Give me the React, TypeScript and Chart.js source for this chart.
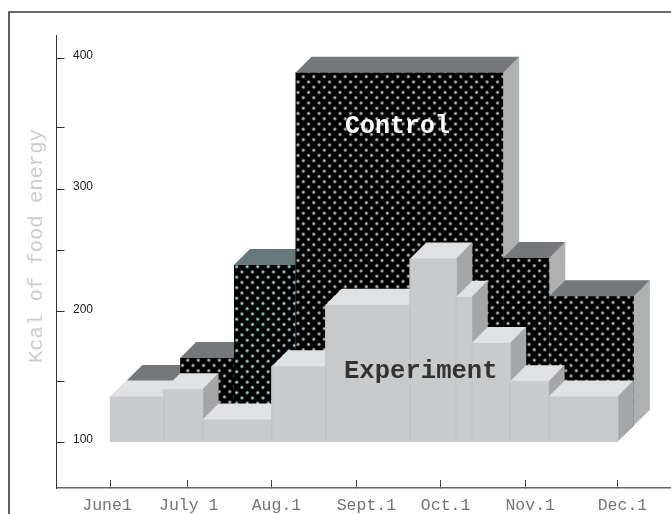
import React, { useEffect, useRef } from "react";
import { Chart, BarController, registerables } from "chart.js";

Chart.register(...registerables);

// Bar boundaries and values
const experimentEdges = [0, 7, 12, 21, 28, 39, 45, 47, 52, 57, 66];
const experimentValues = [135.9, 141.6, 117.9, 159.6, 207.7, 243.7, 213.8, 177.8, 147.9, 135.9];
const controlEdges = [0, 7, 14, 22, 49, 55, 66];
const controlValues = [135.6, 153.6, 226.2, 376.3, 231.7, 201.7];
const xTickValues = [0, 10, 21, 32, 43, 54, 66];
const xLabelCenters = [-0.43, 10.2, 21.6, 33.3, 43.6, 54.6, 66.6];
const xTickLabels = ["June1", "July 1", "Aug.1", "Sept.1", "Oct.1", "Nov.1", "Dec.1"];
const yTickValues = [100, 147.9, 202, 250.2, 297.9, 346.3, 400];
const yTickLabels = ["100", "", "200", "", "300", "", "400"];
const tealControlIndex = 2;

const DEPTH = 16;

class VarBarController extends BarController {
  _calculateBarIndexPixels(index: number) {
    const scale = this._cachedMeta.iScale;
    const edges = (this.getDataset() as any).edges;
    const l = scale.getPixelForValue(edges[index]);
    const r = scale.getPixelForValue(edges[index + 1]);
    return { base: l, head: r, center: (l + r) / 2, size: r - l, ratio: 1 };
  }
}
(VarBarController as any).id = "varbar";
(VarBarController as any).defaults = BarController.defaults;
(VarBarController as any).overrides = BarController.overrides;
Chart.register(VarBarController as any);

function dotPattern(ctx: CanvasRenderingContext2D, ax: number, ay: number, core: string, halo: string) {
  const T = 21;
  const c = document.createElement("canvas");
  c.width = T;
  c.height = T;
  const g = c.getContext("2d")!;
  g.fillStyle = "#000";
  g.fillRect(0, 0, T, T);
  const P = 10.5;
  for (let i = -1; i < 3; i++) {
    for (let j = -1; j < 3; j++) {
      for (const [ox, oy] of [[0, 0], [P / 2, P / 2]]) {
        const x = ax + i * P + ox;
        const y = ay + j * P + oy;
        const rg = g.createRadialGradient(x, y, 0, x, y, 2.8);
        rg.addColorStop(0, core);
        rg.addColorStop(0.45, halo);
        rg.addColorStop(1, "rgba(0,0,0,0)");
        g.fillStyle = rg;
        g.fillRect(x - 3, y - 3, 6, 6);
      }
    }
  }
  return ctx.createPattern(c, "repeat")!;
}

function poly(ctx: CanvasRenderingContext2D, pts: number[][], fill: string) {
  ctx.beginPath();
  pts.forEach(([x, y], i) => (i ? ctx.lineTo(x, y) : ctx.moveTo(x, y)));
  ctx.closePath();
  ctx.fillStyle = fill;
  ctx.fill();
}

const box3d = {
  id: "box3d",
  beforeDraw(chart: any) {
    const { ctx } = chart;
    ctx.save();
    ctx.strokeStyle = "#3c3c3c";
    ctx.lineWidth = 1.6;
    ctx.beginPath();
    ctx.moveTo(9, 514);
    ctx.lineTo(9, 12);
    ctx.lineTo(671, 12);
    ctx.stroke();
    ctx.restore();
  },
  beforeDatasetDraw(chart: any, args: any) {
    const { ctx } = chart;
    const ds = chart.data.datasets[args.index];
    ctx.save();
    ctx.translate(ds.shiftPx, -ds.shiftPx);
    args.meta.data.forEach((el: any, i: number) => {
      const l = el.x - el.width / 2;
      const r = el.x + el.width / 2;
      const t = el.y;
      const b = el.base;
      poly(ctx, [[r - 0.7, t], [r + DEPTH, t - DEPTH], [r + DEPTH, b - DEPTH], [r - 0.7, b]], ds.sideColor);
      const top = Array.isArray(ds.topColor) ? ds.topColor[i] : ds.topColor;
      poly(ctx, [[l, t + 0.7], [l, t], [l + DEPTH, t - DEPTH], [r + DEPTH, t - DEPTH], [r, t], [r, t + 0.7]], top);
    });
    if (ds.frontUnderlay) {
      // keeps the darker bar behind from showing through the anti-aliased edges
      ctx.fillStyle = ds.frontUnderlay;
      args.meta.data.forEach((el: any) => {
        ctx.fillRect(el.x - el.width / 2 - 0.5, el.y + 0.5, el.width + 1, el.base - el.y - 0.5);
      });
    }
  },
  afterDatasetDraw(chart: any, args: any) {
    const { ctx } = chart;
    const ds = chart.data.datasets[args.index];
    if (ds.seamColor) {
      ctx.fillStyle = ds.seamColor;
      args.meta.data.forEach((el: any, i: number) => {
        if (i) ctx.fillRect(Math.round(el.x - el.width / 2) - 0.5, el.y, 1, el.base - el.y);
      });
    }
    ctx.restore();
  },
  afterDatasetsDraw(chart: any) {
    const { ctx } = chart;
    ctx.save();
    ctx.textAlign = "left";
    ctx.textBaseline = "alphabetic";
    ctx.font = "bold 25px 'Liberation Mono'";
    ctx.fillStyle = "#ffffff";
    ctx.fillText("Control", 345, 132.5);
    ctx.font = "bold 25.6px 'Liberation Mono'";
    ctx.fillStyle = "#333333";
    ctx.fillText("Experiment", 344, 378);
    ctx.translate(41.5, 363);
    ctx.rotate(-Math.PI / 2);
    ctx.font = "20.5px 'Liberation Mono'";
    ctx.fillStyle = "#cbcdcd";
    ctx.fillText("Kcal of food energy", 0, 0);
    ctx.restore();
  },
};

export default function App() {
  const ref = useRef<HTMLCanvasElement>(null);
  useEffect(() => {
    const canvas = ref.current!;
    const ctx = canvas.getContext("2d")!;
    const gray = dotPattern(ctx, 3.8, 8.7, "#dcdcdc", "#727272");
    const teal = dotPattern(ctx, 0.2, 9.7, "#e0e8e8", "#55898e");
    const center = (edges: number[], i: number) => (edges[i] + edges[i + 1]) / 2;
    const chart = new Chart(canvas, {
      type: "varbar" as any,
      data: {
        datasets: [
          {
            label: "Experiment",
            order: 1,
            edges: experimentEdges,
            shiftPx: 0,
            data: experimentValues.map((y, i) => ({ x: center(experimentEdges, i), y })),
            backgroundColor: "#c9cacc",
            borderWidth: 0,
            frontUnderlay: "#c9cacc",
            seamColor: "#bfc0c2",
            topColor: "#e0e1e3",
            sideColor: "#a4a6a8",
            base: 100,
            clip: false,
          },
          {
            label: "Control",
            order: 2,
            edges: controlEdges,
            shiftPx: DEPTH,
            data: controlValues.map((y, i) => ({ x: center(controlEdges, i), y })),
            backgroundColor: controlValues.map((_, i) => (i === tealControlIndex ? teal : gray)),
            borderWidth: 0,
            topColor: controlValues.map((_, i) => (i === tealControlIndex ? "#65797c" : "#74787a")),
            sideColor: "#adb1b2",
            base: 100,
            clip: false,
          },
        ] as any,
      },
      options: {
        animation: false,
        responsive: false,
        events: [],
        layout: { autoPadding: false, padding: { top: 35, left: 0, right: 0, bottom: 0 } },
        plugins: { legend: { display: false }, tooltip: { enabled: false } },
        scales: {
          x: {
            type: "linear",
            offset: false,
            weight: 0,
            min: -7,
            max: 72.91,
            afterBuildTicks(s: any) {
              s.ticks = xTickValues.map((value) => ({ value }));
            },
            afterFit(s: any) {
              s.height = 0;
            },
            border: { color: "#666666", width: 1.5 },
            grid: { offset: false, drawOnChartArea: false, tickLength: -8, color: "#444444", tickWidth: 1 },
            ticks: { display: false, autoSkip: false, maxRotation: 0, minRotation: 0 },
          },
          xLabels: {
            type: "linear",
            axis: "x",
            position: "bottom",
            offset: false,
            weight: 1,
            min: -7,
            max: 72.91,
            afterBuildTicks(s: any) {
              s.ticks = xLabelCenters.map((value) => ({ value }));
            },
            afterFit(s: any) {
              s.height = 26;
            },
            border: { display: false },
            grid: { display: false, drawTicks: false },
            ticks: {
              autoSkip: false,
              maxRotation: 0,
              minRotation: 0,
              padding: 8,
              color: "#747474",
              font: { family: "'Liberation Mono'", size: 16.5 },
              callback: (_v: any, i: number) => xTickLabels[i],
            },
          },
          y: {
            type: "linear",
            min: 64.45,
            max: 418.36,
            afterBuildTicks(s: any) {
              s.ticks = yTickValues.map((value) => ({ value }));
            },
            afterFit(s: any) {
              s.width = 56.5;
            },
            border: { color: "#333333", width: 1 },
            grid: { drawOnChartArea: false, tickLength: -8, color: "#333333" },
            ticks: {
              autoSkip: false,
              mirror: true,
              padding: 16.5,
              labelOffset: -2.5,
              color: "#222222",
              font: { family: "'Liberation Sans'", size: 12 },
              callback: (_v: any, i: number) => yTickLabels[i],
            },
          },
        },
      } as any,
      plugins: [box3d as any],
    });
    return () => chart.destroy();
  }, []);
  return (
    <canvas
      ref={ref}
      width={671}
      height={514}
      style={{ display: "block", position: "absolute", left: 0, top: 0, width: 671, height: 514 }}
    />
  );
}
